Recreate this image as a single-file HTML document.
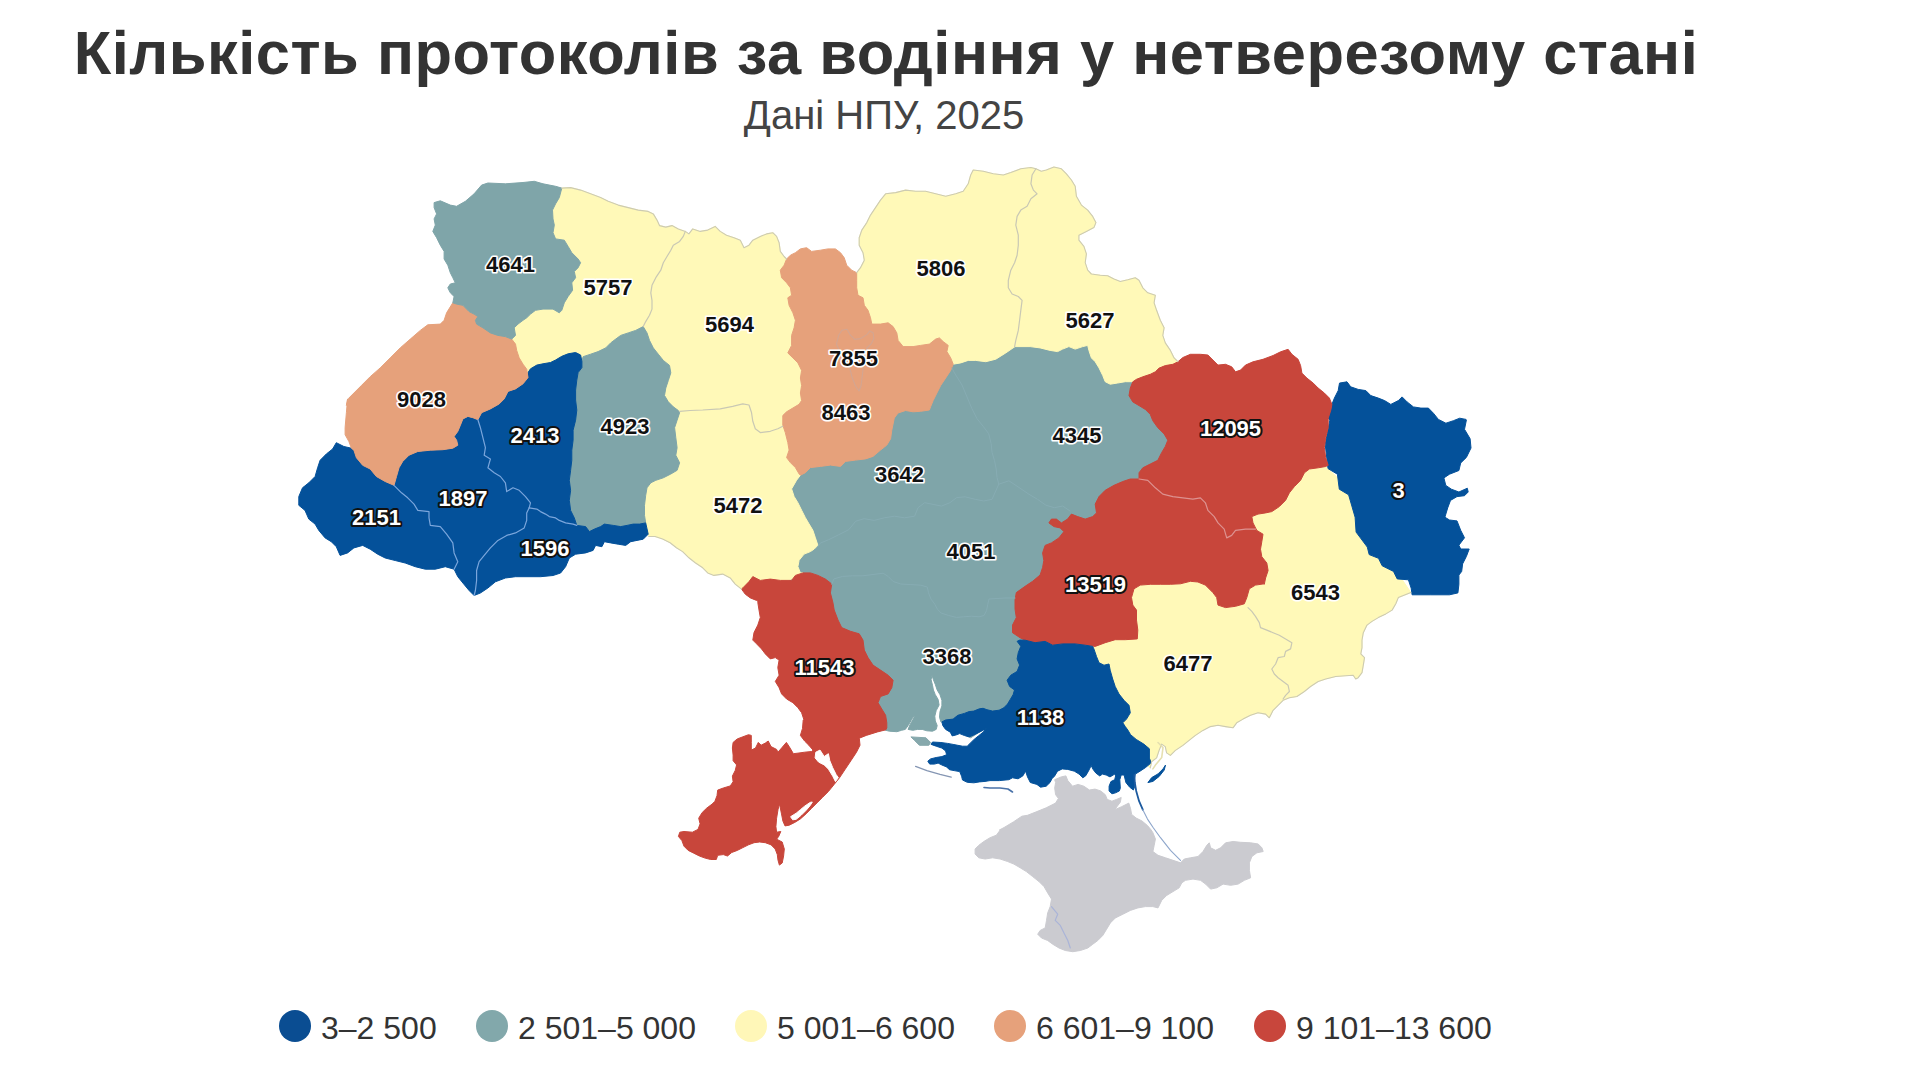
<!DOCTYPE html>
<html lang="uk"><head><meta charset="utf-8"><title>Кількість протоколів за водіння у нетверезому стані</title>
<style>
html,body{margin:0;padding:0;background:#fff;}
body{width:1920px;height:1070px;overflow:hidden;position:relative;font-family:"Liberation Sans",Arial,sans-serif;}
h1{position:absolute;left:0;top:0;margin:0;width:1772px;text-align:center;font-size:61.4px;line-height:70px;top:18px;font-weight:bold;color:#333;letter-spacing:0.52px;white-space:nowrap;}
.sub{position:absolute;left:0;width:1768px;text-align:center;top:92px;font-size:40px;line-height:46px;color:#444;white-space:nowrap;}
svg{position:absolute;left:0;top:0;}
text{font-family:"Liberation Sans",Arial,sans-serif;font-weight:bold;font-size:22px;text-anchor:middle;dominant-baseline:central;paint-order:stroke fill;stroke-linejoin:round;}
.ld{fill:#111;stroke:#fff;stroke-width:3.2px;}
.ll{fill:#fff;stroke:#111;stroke-width:4px;}
.legend{position:absolute;top:1010px;left:0;height:32px;}
.li{position:absolute;top:0;height:32px;white-space:nowrap;font-size:32px;line-height:32px;color:#333;}
.li i{position:absolute;left:0;top:0;width:32px;height:32px;border-radius:50%;}
.li span{position:absolute;left:42px;top:1.5px;}
</style></head><body>
<h1>Кількість протоколів за водіння у нетверезому стані</h1>
<div class="sub">Дані НПУ, 2025</div>
<svg width="1920" height="1070" viewBox="0 0 1920 1070">
<g>
<path d="M870.5,360.4 L1050.1,310.3 L1200.4,415.2 L1125.3,540.4 L1050.1,610.1 L1050.1,685.3 L970.7,737.8 L955,729.4 L941.9,721.9 L940.9,721.9 L939.5,717.2 L940,711.6 L941.9,705.9 L941.9,700.3 L940,694.7 L937.2,690 L935.3,684.4 L933.4,679.7 L932,675.2 L931.1,679.7 L932.5,685.3 L933.4,690 L935.3,694.7 L938.1,699.4 L939.1,705 L936.2,710.6 L934.8,716.2 L935.3,720.9 L937.2,725.6 L936.2,729.4 L932.5,731.2 L926.9,730.8 L922.2,729.4 L917.5,729.4 L912.8,730.3 L908.1,729.4 L910,724.7 L913.8,718.1 L914.7,714.4 L911.9,719.1 L908.1,725.6 L905.3,729.4 L901.6,730.3 L896.9,731.7 L889.4,731.2 L885.6,730.3 L820.4,700.2 L795.4,612.5 L745.3,500.2 L820.4,425.1Z" fill="#7fa5a9" stroke="#7fa5a9" stroke-width="1" stroke-linejoin="round"/>
<path d="M561.8,188.1 L570.6,187.6 L580.6,190.1 L590.6,193.8 L600.6,197.6 L608.2,201.3 L618.2,205.1 L628.2,207.6 L638.2,210.1 L648.2,211.4 L653.3,213.9 L657,220.1 L659.5,225.6 L665.8,227.1 L672,225.6 L678.3,228.9 L685.3,231.4 L688.9,233.9 L692.7,228.9 L700.2,231.4 L707.7,230.1 L715.2,226.4 L720.2,231.4 L726.5,235.2 L734,237.7 L740.3,240.2 L744,247.7 L749,245.2 L752.8,240.2 L760.3,236.4 L766.6,233.9 L772.8,232.7 L776.6,236.4 L779.1,242.7 L780.3,251.4 L784.1,256.5 L786.6,259 L810.4,335.4 L810.4,450.1 L800.4,475.2 L796.6,480.2 L791.6,488.9 L794.1,496.5 L797.9,502.7 L801.6,510.2 L805.4,517.7 L809.1,524 L812.9,530.3 L815.4,537.8 L817.9,545.3 L814.2,549.1 L810.4,551.6 L804.1,554.1 L799.1,560.3 L797.9,566.6 L800.4,572.9 L802.9,572.9 L770.3,590.4 L741.5,589.1 L735.2,584.1 L730.2,577.9 L722.7,574.1 L713.9,575.4 L707.7,572.9 L702.7,567.8 L695.2,562.8 L688.9,557.8 L682.6,551.6 L676.4,547.8 L670.1,542.8 L662.6,539 L655.1,536.5 L648.8,536.5 L615.7,440.2 L553,415.2 L490.4,360.4 L502.9,285.3Z" fill="#fff9b8" stroke="#fff9b8" stroke-width="1" stroke-linejoin="round"/>
<path d="M856.7,272.7 L860.5,267.7 L864.3,260.2 L863,252.7 L859.2,245.2 L859.2,237.7 L861.8,230.1 L866.8,222.6 L870.5,215.1 L875.5,207.6 L880.5,200.1 L885.6,193.8 L895.6,192.6 L905.6,190.1 L915.6,191.3 L925.6,191.3 L935.7,193.8 L945.7,196.3 L955.7,193.8 L963.2,191.3 L968.2,183.8 L970.7,175 L973.2,170 L983.3,171.3 L993.3,173.8 L1003.3,175 L1010.8,172.5 L1020.8,168.8 L1030.9,167.5 L1035.9,168.8 L1041.3,171.3 L1046.3,170 L1053.9,167 L1061.4,168.8 L1066.4,173.8 L1071.4,180 L1075.2,186.3 L1076.4,196.3 L1081.4,205.1 L1087.7,210.1 L1092.7,216.4 L1095.9,222.6 L1093.9,227.6 L1086.4,231.4 L1078.9,235.2 L1078.9,240.2 L1083.9,246.4 L1086.4,253.9 L1085.2,262.7 L1087.7,270.2 L1091.4,274 L1100.2,275.2 L1107.7,275.7 L1114,279 L1120.3,281.5 L1127.8,279.7 L1135.3,277.7 L1139,280.3 L1142.8,287.8 L1147.8,292.8 L1155.3,295.3 L1154.1,302.8 L1156.6,310.3 L1160.3,320.3 L1164.1,327.8 L1162.8,335.4 L1165.3,342.9 L1170.4,350.4 L1174.1,357.9 L1177.9,361.7 L1175.4,378 L1140.3,383 L1132.8,381.7 L1125.3,381.7 L1117.7,383 L1110.2,384.2 L1105.2,381.7 L1102.7,375.4 L1099,367.9 L1095.2,361.7 L1091.4,357.9 L1088.9,350.4 L1087.7,345.4 L1082.7,346.6 L1075.2,349.1 L1068.9,346.6 L1062.6,349.1 L1057.6,351.6 L1050.1,350.4 L1040.1,347.9 L1030.1,346.6 L1020,346.6 L1015,346.6 L1005.8,352.9 L995.8,359.2 L985.8,361.7 L975.7,360.4 L968.2,360.4 L960.7,362.9 L953.2,364.2 L933.2,360.4 L870.5,335.4 L845.5,285.3Z" fill="#fff9b8" stroke="#fff9b8" stroke-width="1" stroke-linejoin="round"/>
<path d="M1325.7,466.5 L1350.7,490.3 L1375.8,540.4 L1410.9,592.6 L1404.6,595.1 L1398.3,597.6 L1395.8,603.8 L1392.1,610.1 L1385.8,613.9 L1378.3,617.6 L1372,621.4 L1367,625.1 L1363.3,632.7 L1362,640.2 L1362,647.7 L1360.8,653.9 L1364.5,657.7 L1363.3,665.2 L1362,672.7 L1358.2,677.7 L1355.7,679 L1353.2,675.2 L1345.7,675.7 L1335.7,676.5 L1325.7,679 L1318.2,681.5 L1310.6,686.5 L1304.4,691.5 L1296.9,696.5 L1289.4,697.8 L1283.1,700.3 L1278.1,705.3 L1273.1,710.3 L1269.3,717.8 L1265.6,714.1 L1258,712.8 L1250.5,715.3 L1243,719.1 L1236.7,722.8 L1233,727.8 L1225.5,726.6 L1218,725.3 L1210.4,726.6 L1202.9,730.4 L1195.4,735.4 L1189.1,740.4 L1182.9,745.4 L1175.4,750.4 L1170.4,755.4 L1166.6,752.9 L1165.3,746.6 L1161.6,744.1 L1159.1,750.4 L1156.6,757.9 L1151.6,761.7 L1150.3,767.9 L1125.3,747.9 L1100.2,672.7 L1092.7,646.4 L1112.7,622.6 L1112.7,572.5 L1225.5,490.3 L1300.6,452.7Z" fill="#fff9b8" stroke="#fff9b8" stroke-width="1" stroke-linejoin="round"/>
<path d="M1054.7,779.7 L1061.2,776.9 L1065.9,775.9 L1067.8,780.6 L1072.5,786.2 L1078.1,784.4 L1083.8,786.2 L1089.4,790 L1095,789.1 L1100.6,790.9 L1105.3,794.7 L1107.2,799.4 L1111.9,801.2 L1116.6,799.4 L1121.2,797.5 L1120.3,802.2 L1114.7,809.7 L1121.2,806.9 L1128.8,803.1 L1130.6,808.8 L1131.6,814.4 L1136.2,818.1 L1141.9,820.9 L1147.5,825.6 L1151.2,830 L1152.9,832.7 L1155.4,839 L1154.2,845.3 L1152.9,851.5 L1158,855.3 L1165.5,857.8 L1173,860.3 L1180.5,862.8 L1184.3,859 L1190.5,857.8 L1198,856.5 L1203,851.5 L1206.8,845.3 L1209.3,842.8 L1210.6,847.8 L1215.6,850.3 L1220.6,847.8 L1225.6,842.8 L1233.1,841.5 L1240.6,842.3 L1250.6,842.8 L1258.2,844 L1261.9,847.8 L1263.2,851.5 L1256.9,852.8 L1251.9,856.5 L1249.4,862.8 L1249.4,870.3 L1250.6,877.8 L1244.4,880.3 L1238.1,884.1 L1230.6,885.3 L1223.1,884.1 L1216.8,887.8 L1210.6,889.1 L1205.6,884.1 L1200.5,880.3 L1193,879.1 L1185.5,880.3 L1181.8,882.8 L1179.2,887.8 L1173,891.6 L1166.7,895.4 L1161.7,900.4 L1158,907.9 L1152.9,906.6 L1145.4,906.6 L1137.9,907.9 L1130.4,910.4 L1122.9,914.2 L1115.4,917.9 L1110.4,922.9 L1106.6,929.2 L1102.8,935.4 L1097.8,940.5 L1092.8,944.2 L1087.8,948 L1080.3,950.5 L1072.8,951.7 L1065.3,950.5 L1059,948 L1052.7,944.2 L1047.7,940.5 L1041.5,938 L1037.7,934.2 L1040.2,930.4 L1045.2,927.9 L1046.5,920.4 L1047.7,912.9 L1050.2,906.6 L1051.5,899.1 L1047.7,892.9 L1044,886.6 L1039,881.6 L1032.7,876.6 L1026.4,871.6 L1020.2,867.8 L1013.9,864.1 L1007.6,861.5 L1000.1,859 L992.6,857.8 L985.1,859 L978.8,857.8 L975.1,854 L975.1,849 L978.8,845.3 L983.8,841.5 L990.1,837.7 L996.4,835.2 L1000.1,830.2 L999.4,830 L1004.1,827.5 L1013.4,821.9 L1021.9,816.2 L1027.5,815.3 L1036.9,811.6 L1046.2,807.8 L1055.6,803.1 L1058.4,798.4 L1055.6,794.7 L1054.7,788.1 L1055.6,782.5Z" fill="#cbcbd0" stroke="#cbcbd0" stroke-width="1" stroke-linejoin="round"/>
<path d="M786.6,259 L790.4,255.2 L795.4,252.7 L800.4,248.9 L806.6,247.7 L811.6,251.4 L820.4,250.2 L827.9,248.9 L835.4,248.9 L840.5,252.7 L844.2,257.7 L846.7,265.2 L851.7,270.2 L856.7,272.7 L856.7,280.3 L856.7,287.8 L858,295.3 L863,297.8 L864.3,305.3 L868,310.3 L870.5,317.8 L871.8,324.1 L880.5,324.1 L888.1,322.8 L893.1,326.6 L896.8,332.9 L898.1,340.4 L903.1,346.6 L913.1,346.6 L920.6,345.4 L929.4,344.1 L935.7,339.1 L939.4,337.9 L943.2,341.6 L948.2,345.4 L946.9,351.6 L950.7,357.9 L953.2,364.2 L950.7,370.4 L945.7,378 L940.7,385.5 L936.9,393 L933.2,400.5 L930.6,406.8 L929.4,410 L920.6,411.3 L913.1,411.8 L905.6,410.5 L898.1,413 L894.3,418 L891.8,430.1 L890.6,438.8 L886.8,445.1 L880.5,450.1 L873,456.4 L865.5,458.9 L855.5,460.1 L845.5,461.4 L840.5,466.4 L830.4,465.1 L820.4,466.4 L810.4,467.6 L805.4,472.7 L800.4,475.2 L799.1,473.9 L795.4,467.6 L790.4,462.6 L786.6,457.6 L789.1,450.1 L787.8,442.6 L785.3,432.6 L782.8,425.1 L782.8,415.5 L786.6,411.8 L792.9,408 L799.1,404.3 L801.6,400.5 L800.4,393 L801.6,385.5 L800.4,378 L801.6,370.4 L797.9,362.9 L792.9,357.9 L787.8,352.9 L791.6,345.4 L791.6,335.4 L794.1,327.8 L795.4,320.3 L792.9,312.8 L789.1,305.3 L787.8,297.8 L791.6,295.3 L790.4,287.8 L786.6,282.8 L781.6,277.7 L780.3,270.2 L784.1,265.2Z" fill="#e6a17b" stroke="#e6a17b" stroke-width="1" stroke-linejoin="round"/>
<path d="M1331.9,404.4 L1334.4,398.1 L1338.2,390.6 L1339.5,383.1 L1347,381.8 L1350.7,386.8 L1358.2,389.4 L1365.8,390.6 L1370.8,395.6 L1378.3,398.1 L1384.6,400.6 L1390.8,404.4 L1398.3,400.6 L1402.1,396.9 L1407.1,401.9 L1413.4,406.9 L1420.9,408.1 L1428.4,408.1 L1433.4,413.2 L1438.4,419.4 L1445.9,423.2 L1453.4,420.7 L1459.7,418.2 L1466,419.4 L1466.4,420 L1464.5,429.3 L1470.1,438.7 L1471,448 L1466.4,457.4 L1460.7,463 L1458.9,470.5 L1449.5,474.2 L1443.9,477.9 L1445.8,485.4 L1451.4,489.2 L1458.9,492 L1467.3,488.2 L1468.2,492 L1464.5,495.7 L1457,496.6 L1450.5,500.4 L1447.7,507.9 L1444.9,517.2 L1449.5,520 L1457,520.9 L1460.7,530.3 L1464.5,537.8 L1458.9,545.2 L1460.7,549 L1469.2,549 L1466.4,556.4 L1462.6,563.9 L1461.7,571.4 L1458.9,575.1 L1458.9,584.5 L1457.9,592.9 L1449.5,594.8 L1430.8,594.8 L1412.1,594.8 L1411.2,588.2 L1408.4,579.8 L1397.2,578.9 L1393.5,571.4 L1382.2,565.8 L1378.5,558.3 L1369.2,554.6 L1367.3,547.1 L1356.1,532.1 L1355.1,517.2 L1348.6,494.8 L1339.3,489.2 L1337.4,474.2 L1328,468.6 L1325.2,444.3 L1328,429.3 L1329.9,420 L1328.2,418.2 L1330.7,410.6Z" fill="#04519a" stroke="#04519a" stroke-width="1" stroke-linejoin="round"/>
<path d="M1177.9,361.8 L1182.9,357.5 L1190.4,354.3 L1200.4,354.3 L1207.9,355 L1212.9,360 L1218,365.1 L1225.5,364.3 L1231.7,366.8 L1235.5,371.8 L1240.5,370.1 L1245.5,365.1 L1253,361.8 L1263,359.3 L1273.1,355.5 L1280.6,351.8 L1288.1,349.3 L1291.9,354.3 L1298.1,359.3 L1300.6,365.6 L1301.9,373.1 L1306.9,378.1 L1313.2,383.1 L1318.2,388.1 L1324.4,393.1 L1329.4,398.1 L1331.9,404.4 L1330.7,410.6 L1328.2,418.2 L1328.2,427.7 L1325.7,437.7 L1324.4,447.7 L1325.7,457.7 L1328.2,465.3 L1325.7,466.5 L1318.2,467.8 L1309.4,469 L1304.4,472.8 L1300.6,480.3 L1294.4,486.6 L1289.4,492.8 L1285.6,500.3 L1279.3,506.6 L1271.8,511.6 L1265.6,512.9 L1258,514.1 L1251.8,516.6 L1253,522.9 L1256.8,530.4 L1263,534.2 L1261.8,541.7 L1260.5,549.2 L1261.8,556.7 L1266.8,563 L1268.1,570.5 L1265.6,578 L1264.3,584.3 L1264.3,583.8 L1255.5,585.1 L1249.3,588.8 L1246.8,597.6 L1244.3,603.8 L1235.5,606.3 L1225.5,607.6 L1218,605.1 L1216.7,597.6 L1212.9,592.6 L1205.4,585.1 L1197.9,582 L1190.4,581.3 L1180.4,583.8 L1170.4,584.3 L1160.3,584.3 L1150.3,584.3 L1140.3,585.1 L1134,588.8 L1131.5,597.6 L1132.8,605.1 L1136.5,610.1 L1136.5,620.1 L1137.8,630.1 L1137.3,638.9 L1125.3,639.7 L1115.2,639.7 L1105.2,642.7 L1095.2,646.4 L1085.2,645.2 L1075.2,643.9 L1062.6,643.9 L1052.6,645.2 L1045.1,641.4 L1035.1,642.7 L1025.1,640.2 L1020,637.7 L1012.5,632.7 L1012.5,625.1 L1016.3,617.6 L1015,608.9 L1015,600.1 L1016.3,592.6 L1025.1,586.3 L1032.6,581.3 L1040.1,575 L1042.6,567.5 L1043.8,560.5 L1042.6,552.9 L1045.1,545.4 L1051.4,542.9 L1058.9,537.9 L1063.9,531.6 L1060.1,527.9 L1053.9,526.6 L1048.9,522.9 L1051.4,519.1 L1056.4,519.1 L1061.4,522.9 L1067.6,519.1 L1071.4,514.1 L1077.7,516.6 L1085.2,519.1 L1092.7,516.6 L1096.5,512.9 L1095.2,504.1 L1099,496.6 L1105.2,490.3 L1114,485.3 L1122.8,481.5 L1130.3,479 L1139,479 L1139,472.8 L1142.8,467.8 L1150.3,464 L1157.8,460.3 L1161.6,452.7 L1165.3,446.5 L1167.8,440.2 L1164.1,433.9 L1157.8,427.7 L1152.8,420.7 L1150.3,414.4 L1145.3,409.4 L1139,405.6 L1132.8,401.9 L1129,395.6 L1130.3,388.1 L1132.8,381.8 L1136.5,379.3 L1142.8,376.8 L1150.3,374.3 L1155.3,371.8 L1159.1,368.1 L1165.3,365.6 L1172.9,364.3Z" fill="#c8463b" stroke="#c8463b" stroke-width="1" stroke-linejoin="round"/>
<path d="M1092.7,646.4 L1093.9,648.9 L1096.5,656.5 L1099,662.7 L1104,665.2 L1109,664 L1110.2,670.2 L1112.7,679 L1115.2,686.5 L1119,694 L1124,700.3 L1129,705.3 L1130.3,712.8 L1126.5,719.1 L1122.8,722.8 L1125.3,726.6 L1127.8,730 L1130.6,734.7 L1136.2,739.4 L1143.8,744.1 L1149.4,748.8 L1149.4,758.1 L1151.2,762.8 L1145.6,767.5 L1140,771.2 L1135.3,774.1 L1134.4,778.8 L1134.8,786.2 L1133.4,790 L1129.7,787.2 L1125.9,782.5 L1124.1,775 L1121.2,775 L1119.8,779.7 L1120.3,788.1 L1119.4,790.9 L1115.6,792.8 L1111.9,793.8 L1109.1,790.9 L1109.1,786.2 L1110.9,781.6 L1114.7,779.7 L1115.6,775.9 L1114.7,774.1 L1110,776.9 L1106.2,775 L1102.5,774.1 L1099.7,775.9 L1095.9,773.1 L1093.1,769.4 L1091.2,765.6 L1088.4,771.2 L1085.6,775.9 L1082.8,777.8 L1079.1,774.1 L1074.4,771.2 L1067.8,769.4 L1062.2,768.9 L1057.5,771.2 L1054.7,775.9 L1051.9,778.8 L1050,782.5 L1046.2,786.2 L1040.6,787.2 L1036.9,784.4 L1030.3,782.5 L1027.5,776.9 L1025.6,771.2 L1022.8,775.9 L1018.1,778.8 L1012.5,777.8 L1008.8,779.7 L999.4,780.6 L990,780.6 L985,781.4 L979.4,781.9 L973.8,782.8 L967.2,782.3 L962.5,780 L961.6,776.2 L959.7,771.6 L954.1,770.6 L949.4,769.7 L946.6,766.9 L941.9,765 L938.1,763.1 L934.4,764.1 L929.7,764.1 L927.8,761.2 L930.6,758.9 L936.2,757.5 L941.9,756.6 L946.6,754.7 L945.6,750.9 L941.9,748.1 L936.2,746.2 L931.1,744.4 L932.5,742 L940.9,742.5 L947.5,743.4 L953.1,744.4 L957.8,745.3 L962.5,746.2 L967.2,746.2 L970,743.4 L973.8,739.7 L978.4,735.9 L983.1,732.2 L986.4,728.4 L983.1,730.3 L978.4,732.7 L973.8,735 L969.1,736.9 L964.4,735.5 L959.7,733.6 L955.9,735 L952.2,735.9 L950.3,732.2 L945.6,729.4 L942.8,725.6 L941.9,721.9 L945.6,720 L953.1,719.1 L957.8,715.3 L964.4,713.4 L969.1,711.6 L973.8,711.1 L979.4,708.8 L983.1,708.3 L986.9,709.7 L992.5,711.1 L999.1,710.2 L1003.8,707.8 L1007.5,704.1 L1010.3,699.4 L1013.1,694.7 L1014.5,690 L1009.6,686.4 L1007.1,680.2 L1010.8,675.2 L1017.1,671.4 L1019.6,665.1 L1017.1,658.9 L1018.3,652.6 L1020.8,646.3 L1017.1,641.3 L1019.8,640.1 L1025.1,640.2 L1035.1,642.7 L1045.1,641.4 L1052.6,645.2 L1062.6,643.9 L1075.2,643.9 L1085.2,645.2Z" fill="#04519a" stroke="#04519a" stroke-width="1" stroke-linejoin="round"/>
<path d="M910.9,736.9 L925.9,737.8 L930.6,742.5 L928.8,745.3 L919.4,745.3 L914.7,740.6Z" fill="#86a8ac" stroke="#86a8ac" stroke-width="1" stroke-linejoin="round"/>
<path d="M741.5,589.1 L742.8,587.9 L749,581.6 L752.8,576.6 L760.3,580.4 L770.3,579.1 L780.3,580.4 L791.6,580.4 L795.4,575.4 L802.9,572.9 L810.4,572.9 L817.9,575.4 L825.4,579.1 L830.4,582.9 L831.7,584.1 L830.4,592.9 L832.9,602.5 L834.2,610 L838,620 L841.7,627.6 L850.5,631.3 L859.2,633.8 L863,640.1 L864.3,650.1 L868,657.6 L873,665.1 L880.5,670.1 L888.1,675.2 L893.1,680.2 L891.8,687.7 L888.1,693.9 L880.5,696.5 L878,702.7 L881.8,709 L885.6,715.2 L886.8,722.8 L886.8,727.8 L885.9,729.8 L877.5,731.9 L866.3,735.4 L859.3,738.2 L860,745.2 L856.5,752.2 L850.9,760.7 L845.3,769.1 L839.7,777.5 L834.1,784.5 L828.4,791.5 L822.8,797.1 L817.2,802.7 L811.6,808.3 L806,813.9 L800.4,818.9 L794.8,822.4 L789.2,825.2 L785,825.9 L782.9,821 L781.5,813.9 L780.1,806.9 L779.4,804.1 L778,809.7 L776.6,818.2 L775.9,826.6 L776.6,832.2 L780.8,831.5 L778.7,836.4 L776.6,839.2 L782.2,842 L784.3,849 L783.6,856 L782.2,863 L779.4,865.1 L778,860.2 L777.3,854.6 L775.2,849 L771,844.8 L765.3,842.7 L759.7,842 L754.1,842.7 L748.5,844.8 L742.9,847.6 L737.3,850.4 L731.7,852.5 L727.5,856 L723.3,854.6 L717.7,855.3 L716.3,859.5 L710.7,859.5 L705.1,858.1 L699.4,856 L693.8,853.2 L688.2,850.4 L684,846.2 L681.9,840.6 L678.4,836.4 L679.8,832.2 L684,831.5 L692.4,832.2 L698,829.4 L700.1,823.8 L698.7,818.2 L702.2,812.5 L706.5,808.3 L712.1,804.1 L714.9,801.3 L717,795.7 L717.7,790.1 L723.3,788 L730.3,785.9 L733.1,781.7 L732.4,776.1 L735.2,770.5 L736.6,764.9 L733.1,760.7 L733.1,755.1 L732.4,748 L733.1,742.4 L737.3,738.9 L742.9,736.8 L748.5,734.7 L751.3,735.4 L751.3,742.4 L751.3,750.1 L755.5,748 L758.3,742.4 L761.1,745.2 L765.3,743.1 L768.2,741 L771,746.6 L776.6,749.4 L778,752.2 L782.2,747.3 L786.4,742.4 L789.2,746.6 L793.4,753.7 L799,753 L804.6,752.2 L811.6,751.5 L813,750.1 L808.8,745.2 L804.6,741 L800.4,735.4 L802.5,728.4 L803.2,720 L804.1,720.3 L801.6,712.7 L797.9,707.7 L792.9,702.7 L786.6,699 L781.6,693.9 L779.1,687.7 L775.3,681.4 L779.1,675.2 L777.8,667.6 L779.1,660.1 L775.3,657.6 L770.3,658.9 L765.3,653.9 L761.5,648.9 L756.5,643.8 L752.8,640.1 L754,632.6 L757.8,625.1 L760.3,617.5 L759,610 L757.8,602.5 L757.8,600.4 L756.5,600.4 L750.3,597.9 L745.3,594.2Z" fill="#c8463b" stroke="#c8463b" stroke-width="1" stroke-linejoin="round"/>
<path d="M815.8,752.2 L820,750.1 L824.2,756.5 L828.4,753.7 L829.8,760.7 L832.7,767.7 L836.2,774.7 L838.3,777.5 L835.5,781.7 L832.7,776.1 L828.4,769.1 L824.2,764.9 L818.6,762.1 L815.1,757.9Z" fill="#ffffff" stroke="#ffffff" stroke-width="1" stroke-linejoin="round"/>
<path d="M790.6,816.7 L796.2,813.2 L800.4,809.7 L804.6,806.2 L810.2,802.4 L812.3,802 L810.2,805.5 L806,810.4 L801.1,815.3 L796.2,819.3 L792.7,819.8Z" fill="#ffffff" stroke="#ffffff" stroke-width="1" stroke-linejoin="round"/>
<path d="M581.9,361.3 L583.1,356.7 L590.6,354.2 L598.1,351.6 L605.7,347.9 L610.7,342.9 L615.7,339.1 L620.7,335.4 L628.2,332.9 L635.7,330.4 L643.2,326.6 L647,332.9 L649.5,340.4 L653.3,347.9 L658.3,354.2 L663.3,360.4 L669.5,365.4 L670.8,372.9 L668.3,380.5 L665.8,388 L664.5,395.5 L668.3,401.8 L673.3,406.8 L678.3,410.5 L679.6,412.7 L677.1,420.2 L674.6,427.7 L675.8,437.7 L677.1,447.7 L675.8,455.2 L679.6,462.8 L677.1,470.3 L670.8,474 L663.3,477.8 L655.8,480.3 L650.8,482.8 L647,487.8 L645.7,495.3 L644.5,505.3 L644.5,515.4 L645.7,522.9 L639.5,524.1 L633.2,524.1 L627,525.4 L620.7,526.6 L613.2,525.4 L604.4,524.1 L600.6,526.6 L594.4,529.1 L589.4,531.6 L585.6,526.6 L576.8,525.4 L574.3,517.9 L570.6,510.4 L569.3,500.3 L570.6,490.3 L569.3,480.3 L570.6,470.3 L571.8,460.3 L571.8,450.2 L573.1,440.2 L573.1,430.2 L575.6,420.2 L576.8,410.1 L575.6,400.1 L575.6,390.1 L576.8,380.1 L578.1,372.6 L581.9,367.6Z" fill="#7fa5a9" stroke="#7fa5a9" stroke-width="1" stroke-linejoin="round"/>
<path d="M528,372.6 L530.5,368.8 L536.8,365.1 L543,363.8 L550.5,362.5 L555.6,360 L561.8,356.3 L568.1,353.8 L575.6,352.5 L580.6,355 L581.9,361.3 L581.9,367.6 L578.1,372.6 L576.8,380.1 L575.6,390.1 L575.6,400.1 L576.8,410.1 L575.6,420.2 L573.1,430.2 L573.1,440.2 L571.8,450.2 L571.8,460.3 L570.6,470.3 L569.3,480.3 L570.6,490.3 L569.3,500.3 L570.6,510.4 L574.3,517.9 L576.8,525.4 L585.6,526.6 L589.4,531.6 L594.4,529.1 L600.6,526.6 L604.4,524.1 L613.2,525.4 L620.7,526.6 L627,525.4 L633.2,524.1 L639.5,524.1 L645.7,522.9 L648.2,534.2 L643.2,539.2 L637,540.4 L630.7,541.7 L625.7,545.4 L618.2,544.2 L610.7,542.9 L604.4,541.7 L601.9,546.7 L595.6,545.4 L593.1,550.4 L585.6,552.9 L575.6,554.2 L569.3,558 L565.6,566.7 L560.6,573 L553,575.5 L540.5,576.7 L528,576.7 L515.5,576.7 L505.4,578 L495.4,581.8 L487.9,588 L480.4,593 L474.1,595.5 L469.1,590.5 L462.9,583 L457.8,576.7 L454.1,569.2 L445.3,566.7 L435.3,569.2 L425.3,569.2 L415.3,566.7 L405.2,563 L395.2,560.5 L385.2,558 L377.7,554.2 L370.2,549.2 L362.7,545.4 L353.9,547.9 L347.6,552.9 L340.1,555.4 L336.3,546.7 L331.3,541.7 L325.1,537.9 L318.8,530.4 L315.1,524.1 L308.8,519.1 L305,510.4 L298.8,505.3 L298.8,496.6 L302.5,487.8 L308.8,482.8 L315.1,476.5 L317.6,467.8 L320.1,460.3 L326.3,454 L332.6,449 L336.3,442.7 L343.9,446.5 L351.4,448.2 L353.9,450.2 L356.4,457.7 L362.7,465.3 L370.2,469 L376.4,476.5 L385.2,481.5 L394,485.3 L396.5,476.5 L399,467.8 L402.7,461.5 L409,455.2 L417.8,451.5 L430.3,450.2 L442.8,449.7 L452.8,448.2 L457.8,445.2 L456.6,440.2 L454.1,436.5 L457.8,431.4 L460.4,425.2 L462.9,418.9 L467.9,416.4 L472.9,417.7 L477.9,419.7 L481.6,412.7 L490.4,408.9 L499.2,403.9 L504.2,398.9 L508,391.4 L515.5,388.9 L523,383.8 L528,377.6Z" fill="#04519a" stroke="#04519a" stroke-width="1" stroke-linejoin="round"/>
<path d="M452.8,302.8 L462.9,305.3 L469.1,311.6 L474.1,314.1 L477.9,316.6 L475.4,320.3 L476.6,324.1 L482.9,327.8 L490.4,332.9 L497.9,335.4 L505.4,336.6 L511.7,339.1 L515.5,344.1 L516.7,350.4 L519.2,357.9 L523,364.2 L526.7,369.2 L528,377.6 L523,383.8 L515.5,388.9 L508,391.4 L504.2,398.9 L499.2,403.9 L490.4,408.9 L481.6,412.7 L477.9,419.7 L472.9,417.7 L467.9,416.4 L462.9,418.9 L460.4,425.2 L457.8,431.4 L454.1,436.5 L456.6,440.2 L457.8,445.2 L452.8,448.2 L442.8,449.7 L430.3,450.2 L417.8,451.5 L409,455.2 L402.7,461.5 L399,467.8 L396.5,476.5 L394,485.3 L385.2,481.5 L376.4,476.5 L370.2,469 L362.7,465.3 L356.4,457.7 L353.9,450.2 L351.4,448.2 L348.9,441.5 L345.1,434.7 L345.1,427.7 L346.4,412.7 L347.6,398.9 L346.4,405.5 L348.9,398 L353.9,393 L361.4,385.5 L370.2,376.7 L380.2,367.9 L390.2,357.9 L400.2,347.9 L410.3,339.1 L420.3,330.4 L427.8,324.8 L440.3,324.1 L444.1,320.3 L446.6,312.8Z" fill="#e6a17b" stroke="#e6a17b" stroke-width="1" stroke-linejoin="round"/>
<path d="M434.1,202.6 L440.3,200.8 L450.3,205.1 L456.6,206.3 L465.4,201.3 L474.1,193.8 L481.6,185.1 L487.9,183 L505.4,183.8 L523,182.5 L534.3,181.3 L543,183.8 L555.6,186.3 L561.8,188.1 L559.3,197.6 L555.6,203.8 L552.5,210.1 L553,218.9 L554.3,225.1 L553,232.7 L555.6,238.9 L564.3,240.2 L568.1,246.4 L571.8,252.7 L578.1,259 L580.6,262.7 L578.1,267.7 L574.3,271.5 L575.6,277.7 L571.8,282.8 L572.6,290.3 L568.1,296.5 L564.3,302.8 L561.8,310.3 L559.3,312.8 L553,309.1 L543,309.1 L535.5,310.3 L530.5,314.1 L526.7,317.8 L523,320.3 L518,324.1 L514.2,327.8 L515.5,335.4 L511.7,339.1 L505.4,336.6 L497.9,335.4 L490.4,332.9 L482.9,327.8 L476.6,324.1 L475.4,320.3 L477.9,316.6 L474.1,314.1 L469.1,311.6 L462.9,305.3 L456.6,304.1 L452.8,302.8 L454.1,296.5 L450.3,292.8 L447.8,287.8 L450.3,284 L455.3,282.8 L452.8,277.7 L450.3,272.7 L447.8,265.2 L444.1,259 L444.1,251.4 L440.3,245.2 L436.6,237.7 L432.8,231.4 L435.3,225.1 L434.1,218.9 L436.6,213.9 L434.1,207.6Z" fill="#7fa5a9" stroke="#7fa5a9" stroke-width="1" stroke-linejoin="round"/>
<path d="M1147.9,782.6 L1151.7,777.6 L1158,773.9 L1163,768.9 L1165.5,765.1 L1164.2,770.1 L1159.2,776.4 L1152.9,781.4Z" fill="#04519a" stroke="#04519a" stroke-width="1" stroke-linejoin="round"/>

<path d="M1035.9,168.8 L1032.1,175 L1030.9,183.8 L1033.4,190.1 L1037.1,193.8 L1030.9,198.8 L1027.1,206.3 L1020.8,210.1 L1017.1,216.4 L1015.8,225.1 L1018.3,235.2 L1018.3,245.2 L1017.1,255.2 L1014.6,262.7 L1010.8,270.2 L1008.3,280.3 L1008.3,287.8 L1012.1,294 L1018.3,296.5 L1022.1,300.3 L1020.8,310.3 L1019.6,320.3 L1018.3,330.4 L1015.8,340.4 L1014.6,346.6" fill="none" stroke="#c9c8b4" stroke-width="1.2" stroke-linejoin="round" stroke-linecap="round"/>
<path d="M685.3,231.4 L683.3,236.4 L679.6,241.4 L673.3,245.2 L670.8,250.2 L667,256.5 L663.3,262.7 L660.8,270.2 L655.8,277.7 L652,285.3 L650.8,292.8 L652,300.3 L652,309.1 L649.5,315.3 L645.7,321.6 L643.2,326.6" fill="none" stroke="#c9c8b4" stroke-width="1.2" stroke-linejoin="round" stroke-linecap="round"/>
<path d="M679.6,411.3 L690.1,410.5 L702.7,410 L720.2,408.8 L732.7,406.3 L742.8,403.8 L749,405 L751.5,412.5 L752.8,421.3 L755.3,428.8 L760.3,432.6 L770.3,431.3 L777.8,428.8 L782.8,426.3" fill="none" stroke="#c9c8b4" stroke-width="1.2" stroke-linejoin="round" stroke-linecap="round"/>
<path d="M1248,607.6 L1251.8,611.4 L1255.5,616.4 L1259.3,622.6 L1260.5,627.6 L1266.8,630.1 L1273.1,632.7 L1279.3,635.2 L1285.6,638.9 L1291.9,642.7 L1290.6,648.9 L1285.6,651.4 L1284.3,656.5 L1278.1,657.7 L1275.6,664 L1271.8,669 L1274.3,674 L1278.1,677.7 L1283.1,681.5 L1288.1,685.3 L1289.4,691.5 L1285.6,695.3 L1283.1,699" fill="none" stroke="#c9c8b4" stroke-width="1.2" stroke-linejoin="round" stroke-linecap="round"/>
<path d="M1051.5,906.6 L1057.7,914.2 L1055.2,920.4 L1060.3,925.4 L1064,932.9 L1067.8,940.5 L1070.3,948" fill="none" stroke="#aab4d8" stroke-width="1.2" stroke-linejoin="round" stroke-linecap="round"/>
<path d="M1139,479 L1147.8,480.3 L1155.3,487.8 L1162.8,494.1 L1172.9,496.6 L1182.9,497.8 L1192.9,499.1 L1200.4,497.8 L1205.4,502.8 L1207.9,510.4 L1214.2,516.6 L1218,522.9 L1224.2,529.1 L1226.7,537.9 L1231.7,535.4 L1235.5,530.4 L1245.5,529.1 L1255.5,529.1" fill="none" stroke="#dd9290" stroke-width="1.2" stroke-linejoin="round" stroke-linecap="round"/>
<path d="M477.9,419.7 L480.4,427.7 L482.9,437.7 L485.4,447.7 L484.2,455.2 L490.4,459 L487.9,467.8 L494.2,472.8 L500.4,476.5 L505.4,482.8 L506.7,491.6 L513,487.8 L519.2,490.3 L525.5,496.6 L530.5,502.8 L529.2,507.8" fill="none" stroke="#7ba6dc" stroke-width="1.2" stroke-linejoin="round" stroke-linecap="round"/>
<path d="M529.2,507.8 L536.8,509.1 L540.5,511.6 L545.5,514.1 L549.3,516.6 L555.6,517.9 L559.3,520.4 L565.6,522.9 L573.1,524.1 L576.8,525.4" fill="none" stroke="#7ba6dc" stroke-width="1.2" stroke-linejoin="round" stroke-linecap="round"/>
<path d="M529.2,507.8 L526.7,512.9 L526.7,520.4 L524.2,527.9 L515.5,532.9 L506.7,535.4 L497.9,540.4 L490.4,547.9 L484.2,555.4 L479.1,561.7 L476.6,570.5 L476.6,580.5 L475.4,590.5 L474.1,595.5" fill="none" stroke="#7ba6dc" stroke-width="1.2" stroke-linejoin="round" stroke-linecap="round"/>
<path d="M394,485.3 L401.5,492.8 L407.7,497.8 L414,504.1 L417.8,510.4 L429,511.6 L429,517.9 L430.3,525.4 L440.3,526.6 L446.6,534.2 L452.8,542.9 L454.1,552.9 L457.8,561.7 L454.1,569.2" fill="none" stroke="#7ba6dc" stroke-width="1.2" stroke-linejoin="round" stroke-linecap="round"/>
<path d="M561.8,188.1 L570.6,187.6 L580.6,190.1 L590.6,193.8 L600.6,197.6 L608.2,201.3 L618.2,205.1 L628.2,207.6 L638.2,210.1 L648.2,211.4 L653.3,213.9 L657,220.1 L659.5,225.6 L665.8,227.1 L672,225.6 L678.3,228.9 L685.3,231.4 L688.9,233.9 L692.7,228.9 L700.2,231.4 L707.7,230.1 L715.2,226.4 L720.2,231.4 L726.5,235.2 L734,237.7 L740.3,240.2 L744,247.7 L749,245.2 L752.8,240.2 L760.3,236.4 L766.6,233.9 L772.8,232.7 L776.6,236.4 L779.1,242.7 L780.3,251.4 L784.1,256.5 L786.6,259" fill="none" stroke="#cdcbb2" stroke-width="1.1" stroke-linejoin="round" stroke-linecap="round"/>
<path d="M741.5,589.1 L735.2,584.1 L730.2,577.9 L722.7,574.1 L713.9,575.4 L707.7,572.9 L702.7,567.8 L695.2,562.8 L688.9,557.8 L682.6,551.6 L676.4,547.8 L670.1,542.8 L662.6,539 L655.1,536.5 L648.8,536.5" fill="none" stroke="#cdcbb2" stroke-width="1.1" stroke-linejoin="round" stroke-linecap="round"/>
<path d="M856.7,272.7 L860.5,267.7 L864.3,260.2 L863,252.7 L859.2,245.2 L859.2,237.7 L861.8,230.1 L866.8,222.6 L870.5,215.1 L875.5,207.6 L880.5,200.1 L885.6,193.8 L895.6,192.6 L905.6,190.1 L915.6,191.3 L925.6,191.3 L935.7,193.8 L945.7,196.3 L955.7,193.8 L963.2,191.3 L968.2,183.8 L970.7,175 L973.2,170 L983.3,171.3 L993.3,173.8 L1003.3,175 L1010.8,172.5 L1020.8,168.8 L1030.9,167.5 L1035.9,168.8 L1041.3,171.3 L1046.3,170 L1053.9,167 L1061.4,168.8 L1066.4,173.8 L1071.4,180 L1075.2,186.3 L1076.4,196.3 L1081.4,205.1 L1087.7,210.1 L1092.7,216.4 L1095.9,222.6 L1093.9,227.6 L1086.4,231.4 L1078.9,235.2 L1078.9,240.2 L1083.9,246.4 L1086.4,253.9 L1085.2,262.7 L1087.7,270.2 L1091.4,274 L1100.2,275.2 L1107.7,275.7 L1114,279 L1120.3,281.5 L1127.8,279.7 L1135.3,277.7 L1139,280.3 L1142.8,287.8 L1147.8,292.8 L1155.3,295.3 L1154.1,302.8 L1156.6,310.3 L1160.3,320.3 L1164.1,327.8 L1162.8,335.4 L1165.3,342.9 L1170.4,350.4 L1174.1,357.9 L1177.9,361.7" fill="none" stroke="#cdcbb2" stroke-width="1.1" stroke-linejoin="round" stroke-linecap="round"/>
<path d="M1410.9,592.6 L1404.6,595.1 L1398.3,597.6 L1395.8,603.8 L1392.1,610.1 L1385.8,613.9 L1378.3,617.6 L1372,621.4 L1367,625.1 L1363.3,632.7 L1362,640.2 L1362,647.7 L1360.8,653.9 L1364.5,657.7 L1363.3,665.2 L1362,672.7 L1358.2,677.7 L1355.7,679 L1353.2,675.2 L1345.7,675.7 L1335.7,676.5 L1325.7,679 L1318.2,681.5 L1310.6,686.5 L1304.4,691.5 L1296.9,696.5 L1289.4,697.8 L1283.1,700.3 L1278.1,705.3 L1273.1,710.3 L1269.3,717.8 L1265.6,714.1 L1258,712.8 L1250.5,715.3 L1243,719.1 L1236.7,722.8 L1233,727.8 L1225.5,726.6 L1218,725.3 L1210.4,726.6 L1202.9,730.4 L1195.4,735.4 L1189.1,740.4 L1182.9,745.4 L1175.4,750.4 L1170.4,755.4 L1166.6,752.9 L1165.3,746.6 L1161.6,744.1 L1159.1,750.4 L1156.6,757.9 L1151.6,761.7 L1150.3,767.9" fill="none" stroke="#cdcbb2" stroke-width="1.1" stroke-linejoin="round" stroke-linecap="round"/>
<path d="M952,368 L954.5,373 L962,385 L971.8,408.4 L976.9,418.5 L983.6,426.9 L988.7,433.7 L991.2,443.8 L992,452.2 L994.5,460.6 L996.2,469 L997,477.4 L998.8,484.2" fill="none" stroke="#87acb3" stroke-width="1" stroke-linejoin="round" stroke-linecap="round"/>
<path d="M998.8,484.2 L1008.9,480.8 L1019,487.5 L1029,494.3 L1037.5,499.3 L1045.9,505.2 L1054.3,507.7 L1062.7,506 L1070,511" fill="none" stroke="#87acb3" stroke-width="1" stroke-linejoin="round" stroke-linecap="round"/>
<path d="M818,546.6 L820.3,543.1 L828.7,539.7 L838.8,534.7 L848.9,529.6 L855.7,521.2 L864.1,518.7 L874.2,520.4 L884.3,517.8 L894.4,516.2 L904.5,517.8 L914.6,516.2 L918,507.7 L924.7,502.7 L933.1,504.4 L941.5,506.1 L949.9,502.7 L956.7,497.6 L965.1,496.8 L975.2,499.3 L983.6,501 L992,499.3 L998.8,484.2" fill="none" stroke="#87acb3" stroke-width="1" stroke-linejoin="round" stroke-linecap="round"/>
<path d="M831.7,584.2 L833.9,578.9 L842.7,576.4 L852.8,575.8 L862.9,575.8 L873,574.5 L883.1,573.2 L888.1,576.4 L893.2,581.5 L900.8,584 L910.9,584.6 L920.9,585.2 L927.3,587.1 L928.5,592.8 L931,599.1 L934.8,604.2 L937.4,609.2 L941.1,613 L948.7,615.5 L956.3,617.4 L963.8,616.8 L971.4,616.2 L979,616.8 L984,615.5 L986.6,610.5 L987.8,604.2 L989,599 L1005,598 L1015,598" fill="none" stroke="#87acb3" stroke-width="1" stroke-linejoin="round" stroke-linecap="round"/>
<path d="M838.7,335.2 L842,330.2 L847,329.3 L850.4,335.2 L854.6,339.4 L860.5,338.6 L867.2,334.4 L869.7,331 L873.1,332.7 L873.9,338.6 L871.4,343.6 L867,348 L864,358 L863,370 L862,378 L861,386 L859,391 L855.5,386 L852,377 L850,369 L846,360 L840,352 L836.5,344 L838.7,335.2" fill="none" stroke="#d3a692" stroke-width="1.1" stroke-linejoin="round" stroke-linecap="round"/>
<path d="M1134.4,775 L1134.8,782.5 L1136.2,790.9 L1139.1,801.2 L1142.8,809.7" fill="none" stroke="#1c5a9f" stroke-width="1.8" stroke-linejoin="round" stroke-linecap="round"/>
<path d="M1142.8,809.7 L1147.5,819.1 L1153.1,827.5 L1160.5,837.7 L1170.5,850.3 L1180.5,860.3" fill="none" stroke="#8ea6cb" stroke-width="1.1" stroke-linejoin="round" stroke-linecap="round"/>
<path d="M1158,742.5 L1163,747.6 L1161.7,757.6 L1155.4,765.1 L1152.9,768.9" fill="none" stroke="#e6e0b0" stroke-width="1.6" stroke-linejoin="round" stroke-linecap="round"/>
<path d="M915.6,766.4 L926.9,770.6 L940,774.4 L951.2,777.2" fill="none" stroke="#8596b3" stroke-width="1.3" stroke-linejoin="round" stroke-linecap="round"/>
<path d="M984,787.5 L990,788 L1000,788 L1008,789 L1012.5,792" fill="none" stroke="#4a72a8" stroke-width="1.6" stroke-linejoin="round" stroke-linecap="round"/>
</g>
<g>
<text class="ld" x="510.5" y="264">4641</text>
<text class="ld" x="608" y="287">5757</text>
<text class="ld" x="729.5" y="324">5694</text>
<text class="ld" x="941" y="268">5806</text>
<text class="ld" x="1090" y="320">5627</text>
<text class="ld" x="853.5" y="358">7855</text>
<text class="ld" x="846" y="412">8463</text>
<text class="ld" x="421.5" y="399">9028</text>
<text class="ll" x="535" y="435.5">2413</text>
<text class="ld" x="625" y="426.5">4923</text>
<text class="ld" x="1077" y="435">4345</text>
<text class="ll" x="1230.5" y="428.5">12095</text>
<text class="ll" x="1398.5" y="490.5">3</text>
<text class="ld" x="899.5" y="474">3642</text>
<text class="ld" x="738" y="505">5472</text>
<text class="ll" x="376.5" y="517.5">2151</text>
<text class="ll" x="463" y="498.5">1897</text>
<text class="ll" x="545" y="548">1596</text>
<text class="ld" x="971" y="551.5">4051</text>
<text class="ll" x="1095.5" y="584.5">13519</text>
<text class="ld" x="1315.5" y="592.5">6543</text>
<text class="ld" x="1188" y="663.5">6477</text>
<text class="ld" x="947" y="656.5">3368</text>
<text class="ll" x="824.5" y="667.5">11543</text>
<text class="ll" x="1040.5" y="717">1138</text>
</g>
</svg>
<div class="legend">
<div class="li" style="left:279px"><i style="background:#0a4d92"></i><span>3–2 500</span></div>
<div class="li" style="left:476px"><i style="background:#82a8ab"></i><span>2 501–5 000</span></div>
<div class="li" style="left:735px"><i style="background:#fff7b8"></i><span>5 001–6 600</span></div>
<div class="li" style="left:994px"><i style="background:#e6a17b"></i><span>6 601–9 100</span></div>
<div class="li" style="left:1254px"><i style="background:#c8463c"></i><span>9 101–13 600</span></div>
</div>
</body></html>
